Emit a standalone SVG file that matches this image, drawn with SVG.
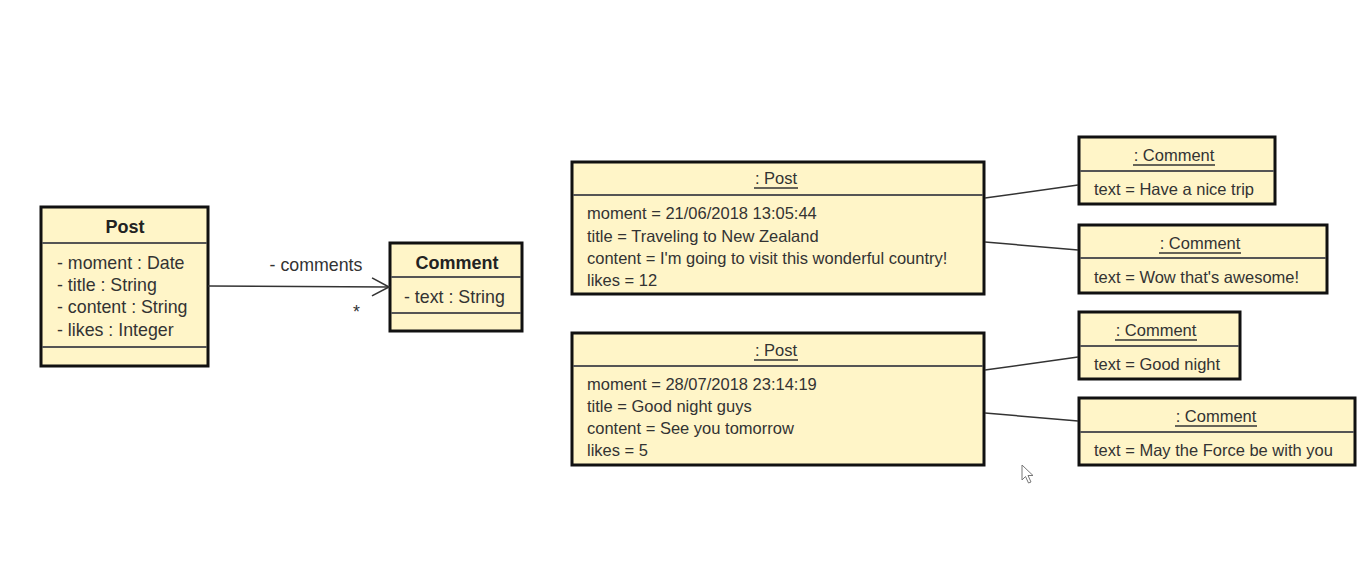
<svg xmlns="http://www.w3.org/2000/svg" width="1363" height="574" viewBox="0 0 1363 574">
<style>
.box{fill:#FFF5C8;stroke:#111;stroke-width:3}
.div{stroke:#555;stroke-width:2}
.t{font-family:"Liberation Sans",Arial,sans-serif;font-size:16.5px;fill:#333}
.ca{font-size:17.8px}
.b{font-family:"Liberation Sans",Arial,sans-serif;font-size:18px;font-weight:bold;fill:#222}
.c{text-anchor:middle}
.ul{stroke:#333;stroke-width:1.3}
.ln{stroke:#333;stroke-width:1.5;fill:none}
</style>
<defs>
<marker id="open" viewBox="0 0 20 20" refX="18" refY="10" markerWidth="20" markerHeight="20" markerUnits="userSpaceOnUse" orient="auto">
<path d="M1,1 L18,10 L1,19" fill="none" stroke="#333" stroke-width="1.6"/>
</marker>
</defs>
<rect width="1363" height="574" fill="#fff"/>

<g id="class-post">
<rect class="box" x="41" y="207" width="167" height="159"/>
<line class="div" x1="42" y1="243" x2="207" y2="243"/>
<line class="div" x1="42" y1="347" x2="207" y2="347"/>
<text class="b c" x="125" y="233">Post</text>
<text class="t ca" x="57" y="269">- moment : Date</text>
<text class="t ca" x="57" y="291">- title : String</text>
<text class="t ca" x="57" y="313">- content : String</text>
<text class="t ca" x="57" y="336">- likes : Integer</text>
</g>

<g id="class-comment">
<rect class="box" x="390" y="243" width="132" height="88"/>
<line class="div" x1="391" y1="277" x2="521" y2="277"/>
<line class="div" x1="391" y1="313" x2="521" y2="313"/>
<text class="b c" x="457" y="269">Comment</text>
<text class="t ca" x="404" y="303">- text : String</text>
</g>

<g id="obj-post1">
<rect class="box" x="572" y="162" width="412" height="132"/>
<line class="div" x1="573" y1="195" x2="983" y2="195"/>
<text class="t c" x="776" y="184">: Post</text>
<line class="ul" x1="754" y1="188" x2="798" y2="188"/>
<text class="t" x="587" y="219">moment = 21/06/2018 13:05:44</text>
<text class="t" x="587" y="242">title = Traveling to New Zealand</text>
<text class="t" x="587" y="264">content = I'm going to visit this wonderful country!</text>
<text class="t" x="587" y="286">likes = 12</text>
</g>

<g id="obj-post2">
<rect class="box" x="572" y="333" width="412" height="132"/>
<line class="div" x1="573" y1="366" x2="983" y2="366"/>
<text class="t c" x="776" y="356">: Post</text>
<line class="ul" x1="754" y1="360" x2="798" y2="360"/>
<text class="t" x="587" y="390">moment = 28/07/2018 23:14:19</text>
<text class="t" x="587" y="412">title = Good night guys</text>
<text class="t" x="587" y="434">content = See you tomorrow</text>
<text class="t" x="587" y="456">likes = 5</text>
</g>

<g id="obj-comment1">
<rect class="box" x="1079" y="137" width="196" height="67"/>
<line class="div" x1="1080" y1="171" x2="1274" y2="171"/>
<text class="t c" x="1174" y="161">: Comment</text>
<line class="ul" x1="1133" y1="165" x2="1215" y2="165"/>
<text class="t" x="1094" y="195">text = Have a nice trip</text>
</g>

<g id="obj-comment2">
<rect class="box" x="1079" y="225" width="248" height="68"/>
<line class="div" x1="1080" y1="258" x2="1326" y2="258"/>
<text class="t c" x="1200" y="249">: Comment</text>
<line class="ul" x1="1159" y1="253" x2="1241" y2="253"/>
<text class="t" x="1094" y="283">text = Wow that's awesome!</text>
</g>

<g id="obj-comment3">
<rect class="box" x="1079" y="312" width="161" height="67"/>
<line class="div" x1="1080" y1="346" x2="1239" y2="346"/>
<text class="t c" x="1156" y="336">: Comment</text>
<line class="ul" x1="1115" y1="340" x2="1197" y2="340"/>
<text class="t" x="1094" y="370">text = Good night</text>
</g>

<g id="obj-comment4">
<rect class="box" x="1079" y="398" width="276" height="67"/>
<line class="div" x1="1080" y1="432" x2="1354" y2="432"/>
<text class="t c" x="1216" y="422">: Comment</text>
<line class="ul" x1="1175" y1="426" x2="1257" y2="426"/>
<text class="t" x="1094" y="456">text = May the Force be with you</text>
</g>

<g id="connectors">
<line class="ln" x1="208" y1="286" x2="389" y2="287" marker-end="url(#open)"/>
<text class="t ca c" x="316" y="271">- comments</text>
<text class="t ca" x="353" y="318">*</text>
<line class="ln" x1="985" y1="198" x2="1078" y2="185"/>
<line class="ln" x1="985" y1="242" x2="1078" y2="250"/>
<line class="ln" x1="985" y1="370" x2="1078" y2="357"/>
<line class="ln" x1="985" y1="413" x2="1078" y2="421"/>
</g>

<path d="M1022,465 L1022,480 L1025.5,476.5 L1028.5,483 L1031,482 L1028,475.5 L1033,475.5 Z" fill="#fff" stroke="#777" stroke-width="1"/>
</svg>
